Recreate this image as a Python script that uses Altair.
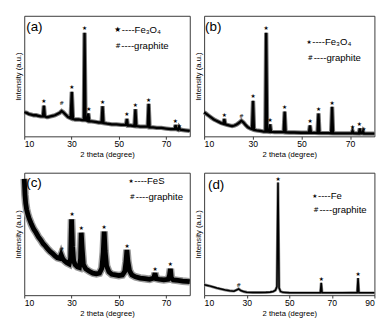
import altair as alt
import pandas as pd

FONT = "Liberation Sans"

# ---------------- panel (a) : Fe3O4 / graphite ----------------
a_x = [10, 11, 12, 13, 14, 15, 16, 17, 17.9, 18.3, 18.7, 19.5, 20, 21, 22, 23, 24, 25, 25.8, 26.5,
       27.5, 28.5, 29.6, 30.1, 30.6, 31.5, 33, 34.5, 35.2, 35.5, 35.9, 36.6, 37.1, 37.5, 38.5, 40,
       41.5, 42.7, 43.1, 43.5, 45, 47, 49, 51, 53.0, 53.4, 53.8, 55, 56.6, 57.0, 57.4, 59, 61, 62.2,
       62.6, 63.0, 64.5, 66, 68, 70, 72, 73.6, 74.0, 74.4, 75.0, 75.4, 76, 78, 80]
a_y = [20, 19.5, 18.5, 18, 17.5, 17.5, 17, 16.5, 16.5, 25.5, 16.5, 16, 16, 16.5, 17, 17.5, 18.5, 19.5, 21, 20,
       18, 16, 15, 37, 14.5, 14, 14, 13.5, 13.5, 86, 13.5, 13, 19, 12.5, 12.5, 12,
       11.5, 11.5, 25, 11, 10.5, 10, 10, 9.5, 9.5, 14.5, 9, 9, 8.5, 22.5, 8.5, 8, 8, 8,
       27, 7.5, 7.5, 7, 7, 6.5, 6, 6, 9.5, 6, 5.5, 7.5, 5.5, 5, 4.5]
a_sx = [18.3, 25.8, 30.1, 35.5, 37.3, 43.1, 53.4, 57.0, 62.6, 73.9, 75.6]
a_sy = [29, 28, 41, 90, 23, 28.5, 18.5, 26, 30.5, 13, 8.5]
a_ss = ["★", "#", "★", "★", "★", "★", "★", "★", "★", "★", "★"]

# ---------------- panel (b) : Fe3O4 / graphite ----------------
b_x = [10, 11, 12, 13, 14, 15, 16, 17, 17.9, 18.3, 18.7, 19.5, 20.5, 21.5, 22.5, 23.5, 24.5, 25.3, 26.2, 27,
       28, 29, 29.7, 30.1, 30.5, 31.5, 33, 34.5, 35.2, 35.5, 35.9, 36.7, 37.1, 37.5, 39, 41, 42.7, 43.1,
       43.5, 45, 47, 50, 53.1, 53.5, 53.9, 55.5, 56.6, 57.0, 57.4, 59, 61, 62.2, 62.6, 63.0, 65, 68,
       70.6, 71.0, 71.4, 73.6, 74.0, 74.4, 75.0, 75.3, 75.7, 78, 80]
b_y = [20, 18.5, 17, 15.5, 14, 13, 12, 11, 10.5, 14.5, 10, 9.5, 9, 8.5, 9, 10, 11.5, 13, 11.5, 9.5,
       7.5, 6.5, 6, 29.5, 5.5, 5, 4.5, 4, 4, 86, 4, 3.8, 10, 3.8, 3.5, 3.5, 3.5, 20.5,
       3.3, 3.2, 3.2, 3, 3, 9, 3, 2.9, 2.8, 19, 2.8, 2.7, 2.7, 2.6, 24.5, 2.6, 2.5, 2.5,
       2.5, 4.5, 2.5, 2.4, 6.5, 2.4, 2.4, 4, 2.3, 2.3, 2.2]
b_sx = [18.3, 25.3, 30.1, 35.5, 37.1, 43.1, 53.5, 57.0, 62.6, 71.0, 73.8, 75.6]
b_sy = [18, 17, 33, 90, 13.5, 24.5, 12.5, 23, 28, 7.5, 10.5, 6]
b_ss = ["★", "#", "★", "★", "★", "★", "★", "★", "★", "★", "★", "★"]

# ---------------- panel (c) : FeS / graphite ----------------
c_x = [10, 10.3, 10.6, 11, 11.5, 12, 13, 14, 15, 16, 17, 18, 19, 20, 21, 22, 23, 24, 25, 25.6,
       26.2, 27, 28, 29, 29.6, 30.0, 30.4, 30.9, 31.5, 32.5, 33.3, 33.8, 34.1, 34.5, 35.0, 36, 37.5,
       39, 40.5, 41.8, 42.8, 43.4, 43.8, 44.2, 44.8, 45.8, 47, 48.5, 50, 51.5, 52.5, 53.0, 53.4,
       53.8, 54.5, 55.5, 57, 59, 61, 63, 64.8, 65.3, 65.8, 67, 69, 70.8, 71.4, 71.8, 72.2, 73, 75,
       77, 80]
c_y = [95, 82, 75, 70, 66, 63, 58, 54, 51, 47.5, 45, 42, 40, 37.5, 35.5, 34, 32, 30.5, 30, 33,
       30, 28, 26.5, 25.5, 30, 62, 40, 28, 25, 23, 22.5, 30, 51, 38, 25, 21.5, 19.5,
       18, 17.5, 18, 22, 35, 52, 36, 24, 19, 17, 16.5, 16, 16.5, 19.5, 27, 37,
       28, 20, 16.5, 15, 14, 13.5, 13, 14, 18, 13.5, 13, 12.5, 13, 16, 21.5, 14, 12.5, 12,
       11.5, 11]
c_sx = [25.8, 30.2, 34.1, 43.8, 53.5, 65.3, 71.8]
c_sy = [38, 66, 55, 56, 40, 21, 25]
c_ss = ["#", "★", "★", "★", "★", "★", "★"]

# ---------------- panel (d) : Fe / graphite ----------------
d_x = [10, 12, 14, 16, 18, 20, 22, 24, 25.2, 26.2, 27.2, 28.5, 30, 33, 36, 39, 41, 42.5, 43.5, 44.2,
       44.7, 45.2, 45.9, 47, 50, 55, 60, 64.6, 65.0, 65.4, 70, 75, 79, 81.9, 82.3, 82.7, 86, 90]
d_y = [8.5, 7.8, 6.8, 5.8, 5, 4.2, 3.6, 3.3, 4.2, 5.2, 3.8, 3, 2.4, 2.2, 2.2, 2.3, 2.5, 3, 4, 7,
       92, 6, 3, 2.3, 2, 1.9, 1.9, 1.9, 10, 1.9, 1.9, 1.9, 2, 2, 14, 2, 1.9, 1.9]
d_sx = [26.2, 44.7, 65.0, 82.3]
d_sy = [8.5, 95, 13.5, 17.5]
d_ss = ["#", "★", "★", "★"]

labels = ["(a)", "(b)", "(c)", "(d)"]
legend_marks = ["★", "#"]
legends = [["----Fe₃O₄", "----graphite"],
           ["----Fe₃O₄", "----graphite"],
           [" ----FeS", "----graphite"],
           [" ----Fe", "----graphite"]]
x_max = [80, 80, 80, 90]
x_title = "2 theta (degree)"
y_title = "Intensity (a.u.)"


def text_layer(t, x, y, size, font, align="left"):
    return alt.Chart(pd.DataFrame({"t": [t]})).mark_text(
        fontSize=size, font=font, align=align, baseline="middle", color="black").encode(
        x=alt.value(x), y=alt.value(y), text="t:N")


def panel(x, y, sx, sy, ss, label, leg, xmax, w, h, lw, halo, halo_col, lab_xy, leg_xy, leg_dy,
          star_big):
    df = pd.DataFrame({"x": x, "y": y})
    sdf = pd.DataFrame({"x": sx, "y": sy, "s": ss})
    xs = alt.Scale(domain=[10, xmax], nice=False, zero=False)
    ys = alt.Scale(domain=[0, 100], nice=False, zero=False)
    xaxis = alt.Axis(title=x_title, values=list(range(10, xmax + 1, 10)), grid=False,
                     domain=False, tickSize=3, labelPadding=1, titlePadding=2)
    yaxis = alt.Axis(title=y_title, labels=False, ticks=False, grid=False, domain=False,
                     titlePadding=2)
    base = alt.Chart(df)
    halo_l = base.mark_line(color=halo_col, strokeWidth=halo).encode(
        x=alt.X("x:Q", scale=xs, axis=xaxis), y=alt.Y("y:Q", scale=ys, axis=yaxis))
    line = base.mark_line(color="black", strokeWidth=lw).encode(x="x:Q", y="y:Q")
    stars = alt.Chart(sdf).mark_text(fontSize=6, color="black", baseline="middle",
                                      font="DejaVu Sans").encode(x="x:Q", y="y:Q", text="s:N")
    layers = [halo_l, line, stars, text_layer(label, lab_xy[0], lab_xy[1], 14, FONT)]
    # legend: marker glyph + description
    lx, ly = leg_xy
    layers.append(text_layer(legend_marks[0], lx, ly, star_big, "DejaVu Sans"))
    layers.append(text_layer(leg[0], lx + star_big, ly, 10, FONT))
    layers.append(text_layer(legend_marks[1], lx + 1, ly + leg_dy, 7, "DejaVu Sans"))
    layers.append(text_layer(leg[1], lx + 7.5, ly + leg_dy, 10, FONT))
    return alt.layer(*layers).properties(width=w, height=h)


pa = panel(a_x, a_y, a_sx, a_sy, a_ss, labels[0], legends[0], x_max[0], 173, 126, 2.4, 4.5,
           "#777777", (2, 12), (94, 15), 17, 8)
pb = panel(b_x, b_y, b_sx, b_sy, b_ss, labels[1], legends[1], x_max[1], 178, 126, 2.4, 4.5,
           "#777777", (1, 12), (107, 27), 17, 6)
pc = panel(c_x, c_y, c_sx, c_sy, c_ss, labels[2], legends[2], x_max[2], 173, 128, 5, 8,
           "#9a9a9a", (2, 11), (109, 9), 16, 6)
pd_ = panel(d_x, d_y, d_sx, d_sy, d_ss, labels[3], legends[3], x_max[3], 178, 128, 1.6, 3,
            "#888888", (4, 13), (113, 24), 15, 6)

chart = alt.concat(pa, pb, pc, pd_, columns=2, spacing={"row": 38, "column": 15},
                   bounds="flush").properties(padding=0).configure_view(
    stroke="#333333", strokeWidth=1).configure_axis(
    labelFont=FONT, titleFont=FONT, labelFontSize=9, titleFontSize=8,
    titleFontWeight="normal", labelColor="black", titleColor="black", tickColor="#333333")

chart.save("out.html", embed_options={"renderer": "svg", "actions": False})
